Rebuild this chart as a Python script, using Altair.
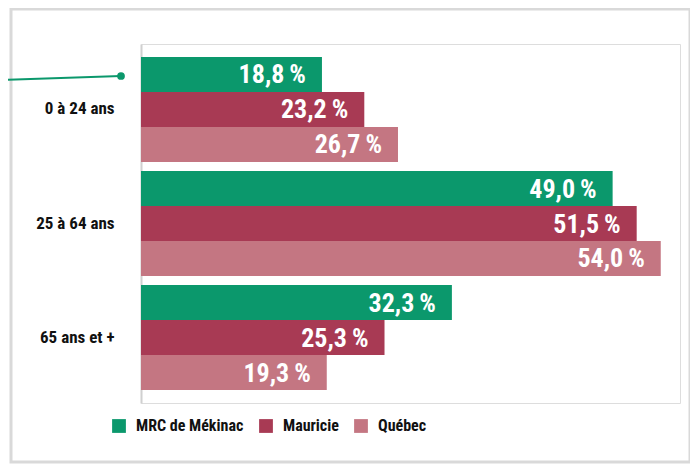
import altair as alt
import pandas as pd

categories = ["0 à 24 ans", "25 à 64 ans", "65 ans et +"]
series = ["MRC de Mékinac", "Mauricie", "Québec"]
values = {
    "MRC de Mékinac": [18.8, 49.0, 32.3],
    "Mauricie": [23.2, 51.5, 25.3],
    "Québec": [26.7, 54.0, 19.3],
}
colors = ["#0b986c", "#a83a54", "#c47682"]

rows = []
for s in series:
    for c, v in zip(categories, values[s]):
        rows.append({"cat": c, "serie": s, "val": v,
                     "lab": f"{v:.1f}".replace(".", ",") + "\u2009%"})
df = pd.DataFrame(rows)

FONT = "Roboto Condensed, Roboto, sans-serif"

base = alt.Chart(df).encode(
    y=alt.Y("cat:N", sort=categories, title=None,
            scale=alt.Scale(paddingInner=0.079, paddingOuter=0.114),
            axis=alt.Axis(domainColor="#d0d0d0", domainWidth=2, ticks=False,
                          labelPadding=27, labelFontSize=17, labelFontWeight="bold",
                          labelColor="#111111", labelFont=FONT, grid=False)),
    yOffset=alt.YOffset("serie:N", sort=series,
                        scale=alt.Scale(paddingInner=0, paddingOuter=0)),
)

bars = base.mark_bar().encode(
    x=alt.X("val:Q", scale=alt.Scale(domain=[0, 56], nice=False), axis=None),
    color=alt.Color("serie:N", sort=series,
                    scale=alt.Scale(domain=series, range=colors),
                    legend=alt.Legend(title=None, orient="none", legendX=-30, legendY=374,
                                      direction="horizontal", symbolType="square",
                                      symbolSize=190, symbolStrokeWidth=0,
                                      labelFontSize=16, labelFontWeight="bold",
                                      labelFont=FONT, labelColor="#111111",
                                      labelOffset=9, columnPadding=14)),
)

texts = base.mark_text(align="right", baseline="middle", dx=-16, dy=1,
                       font=FONT, fontSize=26, fontWeight="bold", color="white").encode(
    x=alt.X("val:Q"),
    text="lab:N",
)

deco = pd.DataFrame({"a": [0]})
border = alt.Chart(deco).mark_rect(fill=None, stroke="#d9d9d9", strokeWidth=3).encode(
    x=alt.value(-130), x2=alt.value(549), y=alt.value(-35), y2=alt.value(418))
line = alt.Chart(deco).mark_rule(color="#0b986c", strokeWidth=2).encode(
    x=alt.value(-141), x2=alt.value(-20), y=alt.value(36), y2=alt.value(32))
dot = alt.Chart(deco).mark_point(filled=True, color="#0b986c", size=60, opacity=1).encode(
    x=alt.value(-20), y=alt.value(32))

chart = alt.layer(border, line, dot, bars, texts).properties(
    width=539, height=359,
    autosize=alt.AutoSizeParams(type="none"),
    padding={"left": 133, "top": 36, "right": 10, "bottom": 62},
).configure_view(strokeWidth=0, stroke="transparent").configure(font=FONT)

chart.save("out.html", embed_options={"renderer": "svg", "actions": False})
